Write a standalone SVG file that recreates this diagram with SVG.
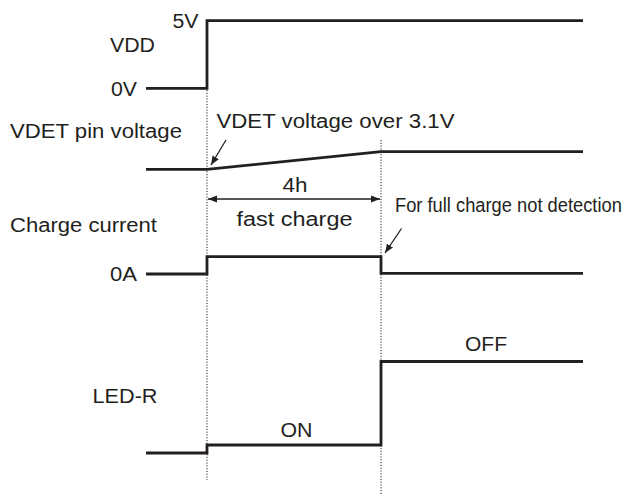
<svg xmlns="http://www.w3.org/2000/svg" width="635" height="494" viewBox="0 0 635 494">
<style>
.t{font-family:"Liberation Sans",Arial,sans-serif;font-size:20px;fill:#231f20}
.n{font-size:21px}
.sig{fill:none;stroke:#231f20;stroke-width:2.8;stroke-linejoin:miter}
.dot{fill:none;stroke:#231f20;stroke-width:1;stroke-dasharray:1.2 1.6}
.ann{fill:none;stroke:#231f20;stroke-width:1.3}
</style>
<defs>
<marker id="ah" viewBox="0 0 10 10" refX="10" refY="5" markerWidth="9" markerHeight="9" markerUnits="userSpaceOnUse" orient="auto-start-reverse">
<path d="M0,1 L10,5 L0,9 z" fill="#231f20"/>
</marker>
</defs>
<g id="connectors">
<line class="dot" x1="207" y1="90" x2="207" y2="480"/>
<line class="dot" x1="381" y1="140" x2="381" y2="494"/>
<line class="ann" x1="226" y1="140" x2="211" y2="165" marker-end="url(#ah)"/>
<line class="ann" x1="401.5" y1="228.5" x2="385" y2="253" marker-end="url(#ah)"/>
<line class="ann" x1="208" y1="199" x2="380" y2="199" marker-start="url(#ah)" marker-end="url(#ah)"/>
</g>
<g id="vdd">
<polyline class="sig" points="146,88.3 207,88.3 207,20.7 583,20.7"/>
<text class="t" x="172.5" y="28" textLength="26" lengthAdjust="spacingAndGlyphs">5V</text>
<text class="t" x="110" y="52" textLength="45" lengthAdjust="spacingAndGlyphs">VDD</text>
<text class="t" x="111" y="96" textLength="26" lengthAdjust="spacingAndGlyphs">0V</text>
</g>
<g id="vdet">
<polyline class="sig" points="146,169.3 207,169.3 381,151.7 583,151.7"/>
<text class="t" x="10" y="137.5" textLength="172" lengthAdjust="spacingAndGlyphs">VDET pin voltage</text>
<text class="t" x="216.5" y="128" textLength="238" lengthAdjust="spacingAndGlyphs">VDET voltage over 3.1V</text>
</g>
<g id="interval">
<text class="t" x="282.5" y="191.5" textLength="25" lengthAdjust="spacingAndGlyphs">4h</text>
<text class="t" x="236.5" y="225.5" textLength="116" lengthAdjust="spacingAndGlyphs">fast charge</text>
</g>
<g id="charge">
<polyline class="sig" points="146,274 207,274 207,256.7 381,256.7 381,273.3 583,273.3"/>
<text class="t" x="10" y="231.5" textLength="147" lengthAdjust="spacingAndGlyphs">Charge current</text>
<text class="t" x="110" y="281" textLength="27" lengthAdjust="spacingAndGlyphs">0A</text>
<text class="t n" transform="translate(395,211.5) scale(0.872,1)" x="0" y="0">For full charge not detection</text>
</g>
<g id="led">
<polyline class="sig" points="146,453 207,453 207,445 381,445 381,361.5 583,361.5"/>
<text class="t" x="92.5" y="403" textLength="65" lengthAdjust="spacingAndGlyphs">LED-R</text>
<text class="t" x="280.5" y="437" textLength="32" lengthAdjust="spacingAndGlyphs">ON</text>
<text class="t" x="465" y="350.5" textLength="42" lengthAdjust="spacingAndGlyphs">OFF</text>
</g>
</svg>
